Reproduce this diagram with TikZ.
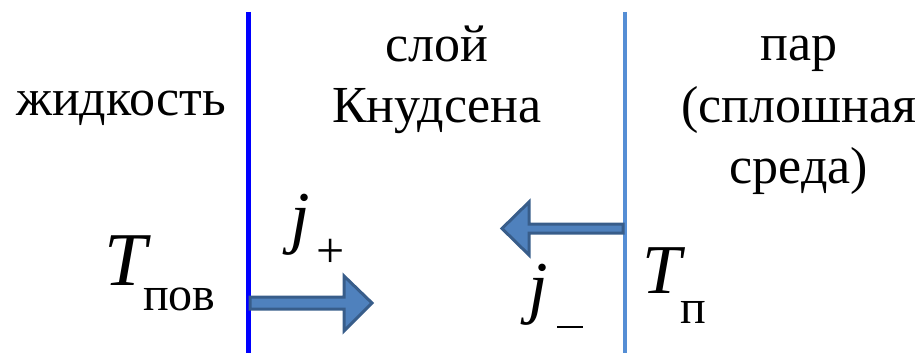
\documentclass[tikz,border=0pt]{standalone}
\usepackage{fontspec}
\setmainfont{Liberation Serif}
\definecolor{lineA}{RGB}{0,0,255}
\definecolor{lineB}{RGB}{85,142,213}
\definecolor{arrowfill}{RGB}{79,129,189}
\definecolor{arrowedge}{RGB}{56,93,138}
\tikzset{
  lbl/.style={inner sep=0pt, outer sep=0pt, anchor=base, font=\fontsize{52}{60}\selectfont},
  bigit/.style={inner sep=0pt, outer sep=0pt, anchor=base west, font=\fontsize{#1}{#1}\selectfont\itshape},
  subs/.style={inner sep=0pt, outer sep=0pt, anchor=base west, font=\fontsize{#1}{#1}\selectfont},
  fatarrow/.style={fill=arrowfill, draw=arrowedge, line width=3pt, line join=miter},
  wall/.style={line width=#1}
}
\begin{document}
\begin{tikzpicture}[x=1pt,y=-1pt]
\useasboundingbox (0,0) rectangle (921,353);
% walls
\coordinate (wAtop) at (248,12);
\coordinate (wAbot) at (248,353);
\coordinate (wBtop) at (625,12);
\coordinate (wBbot) at (625,353);
\draw[wall=5pt, lineA] (wAtop) -- (wAbot);
\draw[wall=4pt, lineB] (wBtop) -- (wBbot);
% region labels
\node[lbl] (liq) at (121,115) {жидкость};
\node[lbl] (kn1) at (437,62) {слой};
\node[lbl] (kn2) at (437,122) {Кнудсена};
\node[lbl] (v1) at (799,60) {пар};
\node[lbl] (v2) at (799,122) {(сплошная};
\node[lbl] (v3) at (799,183) {среда)};
% arrows
\draw[fatarrow] (250,297) -- (344,297) -- (344,276) -- (372,303) -- (344,331) -- (344,309) -- (250,309) -- cycle;
\draw[fatarrow] (623,224) -- (529,224) -- (529,202) -- (502,228.5) -- (529,255) -- (529,233) -- (623,233) -- cycle;
% symbols
\node[bigit=76] (T1) at (104,285) {T};
\node[subs=48] (T1s) at (143,310) {пов};
\node[bigit=70] (jp) at (290,240) {j};
\node[subs=50, anchor=center] (jps) at (331,253) {+};
\node[bigit=70] (jm) at (528,310) {j};
\node[inner sep=0pt, outer sep=0pt, fill=black, minimum width=26pt, minimum height=2.5pt] (jms) at (570,327) {};
\node[bigit=70] (T2) at (642,293) {T};
\node[subs=48] (T2s) at (680,323) {п};
\end{tikzpicture}
\end{document}
